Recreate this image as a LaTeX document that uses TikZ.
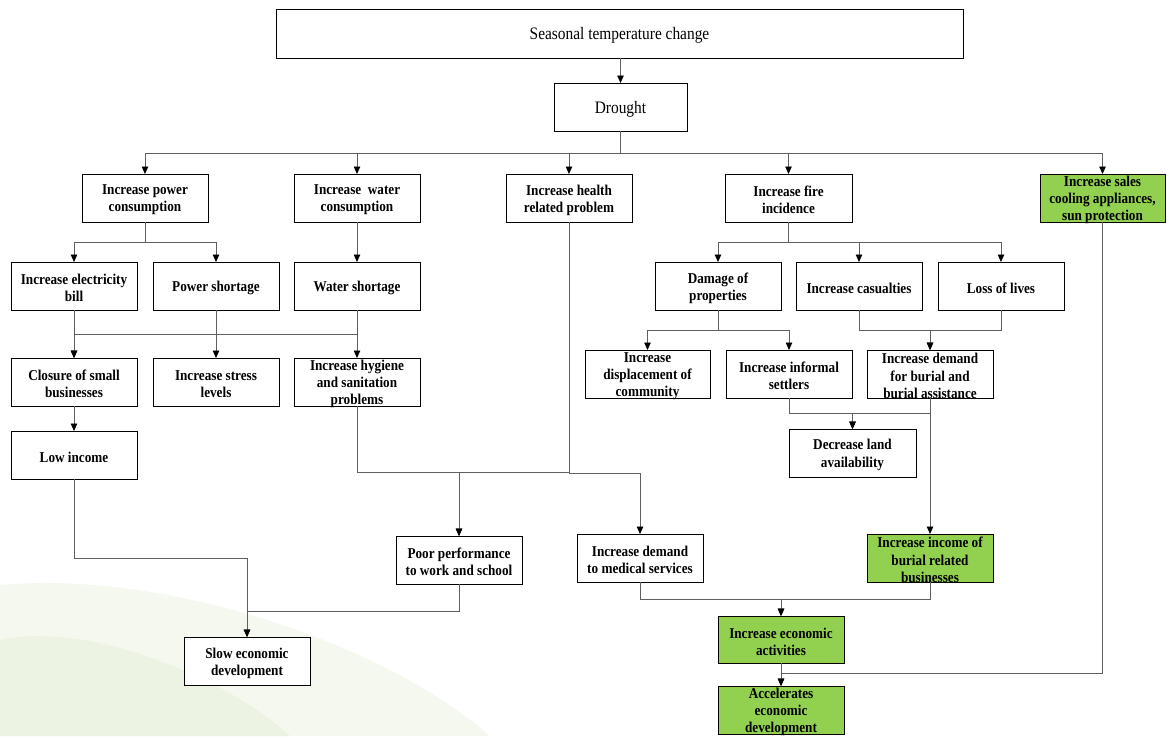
\documentclass[tikz,border=0pt]{standalone}
\usepackage{fontspec}
\setmainfont{Liberation Serif}
\newfontfamily\condfont[FakeStretch=0.88]{Liberation Serif}
\usetikzlibrary{arrows.meta}

\definecolor{boxgreen}{RGB}{146,208,80}
\definecolor{linegray}{RGB}{95,95,95}
\definecolor{tintA}{RGB}{245,248,239}
\definecolor{tintB}{RGB}{237,243,226}

\tikzset{
  shell/.style={draw=black, line width=1pt, fill=white, inner sep=0pt, outer sep=0pt},
  gshell/.style={shell, fill=boxgreen},
  btext/.style={align=center, inner sep=0pt, font=\condfont\bfseries\fontsize{15}{17.2}\selectfont},
  rtext/.style={align=center, inner sep=0pt, font=\condfont\fontsize{17.5}{20}\selectfont},
  conn/.style={draw=linegray, line width=0.8pt},
  arr/.style={conn, -{Triangle[width=6.5pt,length=7.5pt,color=black]}},
}

% \bx{name}{box style}{text style}{x1}{y1}{x2}{y2}{text}
\newcommand\bx[8]{%
  \node[#2, minimum width={#6-#4}, minimum height={#7-#5}] (#1) at ({(#4+#6)/2},{(#5+#7)/2}) {};
  \node[#3] (#1-t) at ([yshift=-2pt]#1.center) {#8};
}

\begin{document}
\begin{tikzpicture}[x=1pt, y=-1pt]
\useasboundingbox (0,0) rectangle (1166,736);

% soft green tint in the lower left corner
\fill[tintA] (0,585) .. controls (160,570) and (380,640) .. (490,736) -- (0,736) -- cycle;
\fill[tintB] (0,640) .. controls (90,620) and (230,680) .. (290,736) -- (0,736) -- cycle;

% boxes
\bx{season}{shell}{rtext}{276}{9}{963}{58}{Seasonal temperature change}
\bx{drought}{shell}{rtext}{554}{83}{687}{131}{Drought}

\bx{pow}{shell}{btext}{82}{174}{208}{222}{Increase power\\consumption}
\bx{wat}{shell}{btext}{294}{174}{420}{222}{Increase~ water\\consumption}
\bx{hea}{shell}{btext}{506}{174}{632}{222}{Increase health\\related problem}
\bx{fir}{shell}{btext}{725}{174}{852}{222}{Increase fire\\incidence}
\bx{sal}{gshell}{btext}{1040}{174}{1165}{222}{Increase sales\\cooling appliances,\\sun protection}

\bx{elec}{shell}{btext}{11}{262}{137}{310}{Increase electricity\\bill}
\bx{psh}{shell}{btext}{153}{262}{279}{310}{Power shortage}
\bx{wsh}{shell}{btext}{294}{262}{420}{310}{Water shortage}
\bx{dmg}{shell}{btext}{655}{262}{781}{310}{Damage of\\properties}
\bx{cas}{shell}{btext}{796}{262}{922}{310}{Increase casualties}
\bx{loss}{shell}{btext}{938}{262}{1064}{310}{Loss of lives}

\bx{clo}{shell}{btext}{11}{358}{137}{406}{Closure of small\\businesses}
\bx{str}{shell}{btext}{153}{358}{279}{406}{Increase stress\\levels}
\bx{hyg}{shell}{btext}{294}{358}{420}{406}{Increase hygiene\\and sanitation\\problems}
\bx{disp}{shell}{btext}{585}{350}{710}{398}{Increase\\displacement of\\community}
\bx{inf}{shell}{btext}{726}{350}{852}{398}{Increase informal\\settlers}
\bx{bur}{shell}{btext}{867}{350}{993}{398}{Increase demand\\for burial and\\burial assistance}

\bx{low}{shell}{btext}{11}{431}{137}{479}{Low income}
\bx{land}{shell}{btext}{789}{429}{916}{477}{Decrease land\\availability}

\bx{poor}{shell}{btext}{396}{536}{522}{584}{Poor performance\\to work and school}
\bx{med}{shell}{btext}{577}{534}{703}{582}{Increase demand\\to medical services}
\bx{binc}{gshell}{btext}{867}{534}{993}{582}{Increase income of\\burial related\\businesses}

\bx{slow}{shell}{btext}{184}{637}{310}{685}{Slow economic\\development}
\bx{eco}{gshell}{btext}{718}{616}{844}{663}{Increase economic\\activities}
\bx{acc}{gshell}{btext}{718}{686}{844}{734}{Accelerates\\economic\\development}

% junction points of the connectors
\coordinate (dbus)    at (620.5,153);
\coordinate (pbus)    at (145,242);
\coordinate (ebus)    at (74,334);
\coordinate (fbus)    at (788.5,242);
\coordinate (dmgbus)  at (718,330);
\coordinate (burbus)  at (930,330);
\coordinate (landbus) at (852.5,413);
\coordinate (poorbus) at (459,472);
\coordinate (medbus)  at (640,473);
\coordinate (lowbus)  at (247,558);
\coordinate (slowbus) at (247,611);
\coordinate (ecobus)  at (781,599);
\coordinate (accbus)  at (781,673);

% connectors
\draw[arr] (drought.north |- season.south) -- (drought.north);
\draw[conn] (drought.south) -- (dbus);
\foreach \n in {pow,wat,hea,fir,sal} \draw[arr] (dbus) -| (\n.north);

\draw[conn] (pow.south) -- (pbus);
\draw[arr] (pbus) -| (elec.north);
\draw[arr] (pbus) -| (psh.north);
\draw[arr] (wat.south) -- (wsh.north);

\draw[arr] (elec.south) -- (clo.north);
\draw[arr] (wsh.south) |- (ebus) -- (clo.north);
\draw[arr] (wsh.south) -- (hyg.north);
\draw[arr] (psh.south) -- (str.north);

\draw[arr] (clo.south) -- (low.north);
\draw[arr] (low.south) |- (lowbus) -- (slow.north);
\draw[arr] (poor.south) |- (slowbus) -- (slow.north);

\draw[arr] (hyg.south) |- (poorbus) -- (poor.north);
\draw[arr] (hea.south) |- (poorbus) -- (poor.north);
\draw[arr] (hea.south) |- (medbus) -- (med.north);

\draw[conn] (fir.south) -- (fbus);
\draw[arr] (fbus) -| (dmg.north);
\draw[arr] (fbus) -| (cas.north);
\draw[arr] (fbus) -| (loss.north);

\draw[conn] (dmg.south) -- (dmgbus);
\draw[arr] (dmgbus) -| (disp.north);
\draw[arr] (dmgbus) -| (inf.north);

\draw[arr] (cas.south) |- (burbus) -- (bur.north);
\draw[arr] (loss.south) |- (burbus) -- (bur.north);

\draw[arr] (inf.south) |- (landbus) -- (land.north);
\draw[arr] (bur.south) |- (landbus) -- (land.north);
\draw[arr] (bur.south) -- (binc.north);

\draw[arr] (med.south) |- (ecobus) -- (eco.north);
\draw[arr] (binc.south) |- (ecobus) -- (eco.north);
\draw[arr] (eco.south) -- (acc.north);
\draw[arr] (sal.south) |- (accbus) -- (acc.north);
\end{tikzpicture}
\end{document}
